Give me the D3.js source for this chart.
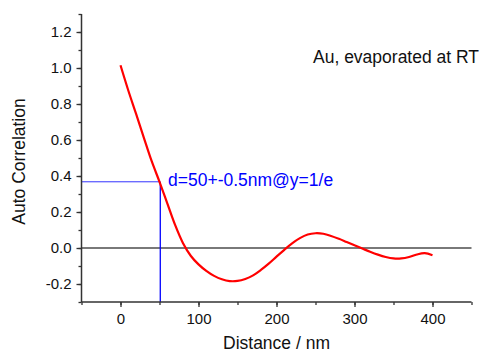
<!DOCTYPE html>
<html><head><meta charset="utf-8">
<script src="https://cdn.jsdelivr.net/npm/d3@7"></script>
<style>body{margin:0;background:#fff}svg{display:block;font-family:"Liberation Sans",Arial,sans-serif}</style>
</head><body>
<svg id="c" width="483" height="352"></svg>
<script>
const distance = [0,10,20,30,40,50,60,70,80,90,100,110,120,130,140,150,160,170,180,190,200,210,220,230,240,250,260,270,280,290,300,310,320,330,340,350,360,370,380,390,400];
const autoCorr = [1.015,0.875,0.745,0.612,0.482,0.368,0.248,0.128,0.028,-0.043,-0.091,-0.127,-0.155,-0.174,-0.184,-0.183,-0.172,-0.152,-0.122,-0.087,-0.048,-0.01,0.026,0.055,0.075,0.082,0.079,0.067,0.051,0.033,0.015,-0.003,-0.021,-0.037,-0.05,-0.058,-0.058,-0.05,-0.036,-0.029,-0.04];
const xTicks = [0,100,200,300,400];
const yTicks = [-0.2,0.0,0.2,0.4,0.6,0.8,1.0,1.2];
const markX = 51, markY = 1/Math.E;
const annotation = "d=50+-0.5nm@y=1/e";
const title = "Au, evaporated at RT";

const svg = d3.select("#c");
const x = d3.scaleLinear().domain([-50,450]).range([81.5,471.5]);
const y = d3.scaleLinear().domain([-0.3,1.3]).range([302,14]);
const axisColor = "#333";
const fmtY = v => d3.format(".1f")(v).replace("\u2212","-");

// zero line
svg.append("line").attr("x1",x(-50)).attr("x2",x(450)).attr("y1",y(0)).attr("y2",y(0))
  .attr("stroke","#4d4d4d").attr("stroke-width",1.6);

// blue marker lines
svg.append("line").attr("x1",x(-50)).attr("x2",x(markX)).attr("y1",y(markY)).attr("y2",y(markY))
  .attr("stroke","#3333ff").attr("stroke-width",1);
svg.append("line").attr("x1",x(markX)).attr("x2",x(markX)).attr("y1",y(markY)).attr("y2",y(-0.3))
  .attr("stroke","#0000ff").attr("stroke-width",1.3);

// curve
const pts = distance.map((d,i)=>[d,autoCorr[i]]);
svg.append("path").datum(pts)
  .attr("d", d3.line().x(d=>x(d[0])).y(d=>y(d[1])).curve(d3.curveCatmullRom.alpha(0.5)))
  .attr("fill","none").attr("stroke","#ff0000").attr("stroke-width",2.2);

// x axis
const xAx = svg.append("g").attr("transform",`translate(0,${y(-0.3)})`);
xAx.call(d3.axisBottom(x).tickValues(d3.range(-50,451,50)).tickSize(3).tickFormat(""));
xAx.selectAll(".tick line").attr("stroke",axisColor).attr("stroke-width",1.3);
const xAx2 = svg.append("g").attr("transform",`translate(0,${y(-0.3)})`);
xAx2.call(d3.axisBottom(x).tickValues(xTicks).tickSize(5).tickPadding(6).tickFormat(d3.format("d")));
xAx2.select(".domain").remove();
xAx2.selectAll(".tick line").attr("stroke",axisColor).attr("stroke-width",1.3);
xAx2.selectAll(".tick text").attr("font-size",15).attr("font-family","Liberation Sans, Arial, sans-serif").attr("fill","#111");
xAx.select(".domain").attr("stroke",axisColor).attr("stroke-width",1.5).attr("d",`M${x(-50)},0H${x(450)}`);

// y axis
const yAx = svg.append("g").attr("transform",`translate(${x(-50)},0)`);
yAx.call(d3.axisLeft(y).tickValues(d3.range(-3,14).map(v=>v/10)).tickSize(3).tickFormat(""));
yAx.selectAll(".tick line").attr("stroke",axisColor).attr("stroke-width",1.3);
yAx.select(".domain").attr("stroke",axisColor).attr("stroke-width",1.5).attr("d",`M0,${y(-0.3)}V${y(1.3)}`);
const yAx2 = svg.append("g").attr("transform",`translate(${x(-50)},0)`);
yAx2.call(d3.axisLeft(y).tickValues(yTicks).tickSize(5).tickPadding(5).tickFormat(fmtY));
yAx2.select(".domain").remove();
yAx2.selectAll(".tick line").attr("stroke",axisColor).attr("stroke-width",1.3);
yAx2.selectAll(".tick text").attr("font-size",15).attr("font-family","Liberation Sans, Arial, sans-serif").attr("fill","#111");

// labels
svg.append("text").attr("x",276.5).attr("y",349).attr("text-anchor","middle")
  .attr("font-size",17.5).attr("fill","#111").text("Distance / nm");
svg.append("text").attr("transform","translate(25,161.5) rotate(-90)").attr("text-anchor","middle")
  .attr("font-size",17.5).attr("fill","#111").text("Auto Correlation");
svg.append("text").attr("x",313).attr("y",62.5).attr("font-size",17.5).attr("fill","#111").text(title);
svg.append("text").attr("x",168).attr("y",185.5).attr("font-size",17.5).attr("fill","#0000ff").text(annotation);
</script>
</body></html>
